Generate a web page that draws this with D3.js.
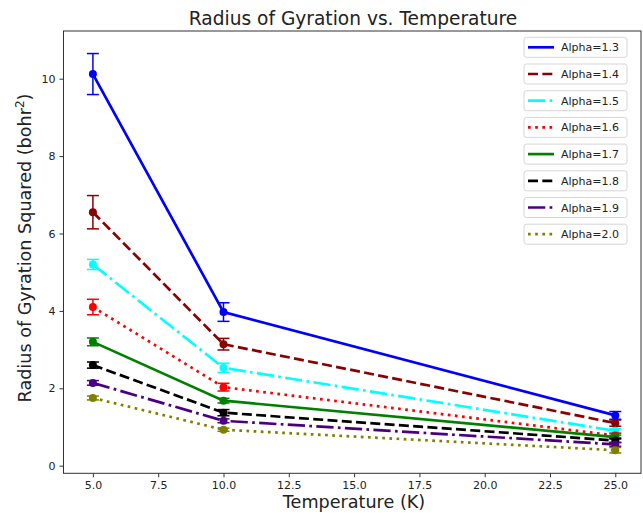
<!DOCTYPE html>
<html><head><meta charset="utf-8">
<script src="https://cdn.jsdelivr.net/npm/d3@7"></script>
<style>body{margin:0;background:#fff}svg{display:block}text{font-family:"DejaVu Sans",sans-serif}</style>
</head><body>
<svg id="c" width="643" height="514"></svg>
<script>
const temps = [5, 10, 25];
const alphas = ["1.3","1.4","1.5","1.6","1.7","1.8","1.9","2.0"];
const values = {
  "1.3": [10.12, 3.97, 1.3],
  "1.4": [6.55, 3.14, 1.1],
  "1.5": [5.2, 2.53, 0.9],
  "1.6": [4.1, 2.03, 0.78],
  "1.7": [3.2, 1.68, 0.74],
  "1.8": [2.6, 1.37, 0.65],
  "1.9": [2.14, 1.16, 0.55],
  "2.0": [1.75, 0.93, 0.4]
};
const errors = {
  "1.3": [0.53, 0.24, 0.1],
  "1.4": [0.43, 0.15, 0.08],
  "1.5": [0.13, 0.12, 0.06],
  "1.6": [0.2, 0.1, 0.06],
  "1.7": [0.1, 0.06, 0.05],
  "1.8": [0.08, 0.08, 0.05],
  "1.9": [0.06, 0.05, 0.05],
  "2.0": [0.05, 0.04, 0.07]
};
const colors = ["#0000ff","#8b0000","#00ffff","#ff0000","#008000","#000000","#4b0082","#808000"];
const styles = ["solid","dashed","dashdot","dotted","solid","dashed","dashdot","dotted"];
const xTicks = [5, 7.5, 10, 12.5, 15, 17.5, 20, 22.5, 25];
const yTicks = [0, 2, 4, 6, 8, 10];

const L = 63.5, R = 641, T = 31, B = 473.3;
const svg = d3.select("#c");
const x = d3.scaleLinear().domain([5, 25]).range([92.9, 615.3]);
const y = d3.scaleLinear().domain([0, 10]).range([465.7, 78.7]);
const lw = 2.7;
const dash = {solid: null, dashed: [3.7*lw, 1.6*lw], dashdot: [6.4*lw, 1.6*lw, 1*lw, 1.6*lw], dotted: [1*lw, 1.65*lw]};

// series
alphas.forEach((a, i) => {
  const g = svg.append("g");
  const pts = temps.map((t, j) => ({t, v: values[a][j], e: errors[a][j]}));
  const c = colors[i];
  g.append("path").datum(pts)
    .attr("d", d3.line().x(d => x(d.t)).y(d => y(d.v)))
    .attr("fill", "none").attr("stroke", c).attr("stroke-width", lw)
    .attr("stroke-dasharray", dash[styles[i]] ? dash[styles[i]].join(",") : null);
  pts.forEach(d => {
    g.append("line").attr("x1", x(d.t)).attr("x2", x(d.t)).attr("y1", y(d.v - d.e)).attr("y2", y(d.v + d.e))
      .attr("stroke", c).attr("stroke-width", 1.5);
    [d.v - d.e, d.v + d.e].forEach(v => g.append("line").attr("x1", x(d.t) - 6).attr("x2", x(d.t) + 6)
      .attr("y1", y(v)).attr("y2", y(v)).attr("stroke", c).attr("stroke-width", 1.5));
    g.append("circle").attr("cx", x(d.t)).attr("cy", y(d.v)).attr("r", 4).attr("fill", c);
  });
});

// axes frame
svg.append("rect").attr("x", L).attr("y", T).attr("width", R - L).attr("height", B - T)
  .attr("fill", "none").attr("stroke", "#333").attr("stroke-width", 1);

const xa = svg.append("g").attr("transform", `translate(0,${B})`)
  .call(d3.axisBottom(x).tickValues(xTicks).tickFormat(d3.format(".1f")).tickSize(4).tickPadding(4));
const ya = svg.append("g").attr("transform", `translate(${L},0)`)
  .call(d3.axisLeft(y).tickValues(yTicks).tickFormat(d3.format("d")).tickSize(4).tickPadding(4));
[xa, ya].forEach(a => {
  a.select(".domain").remove();
  a.selectAll("text").attr("font-size", 11).attr("fill", "#222").style("font-family", "DejaVu Sans");
  a.selectAll("line").attr("stroke", "#333");
});

// title and labels
svg.append("text").attr("x", 353).attr("y", 25).attr("text-anchor", "middle")
  .attr("font-size", 18.6).attr("fill", "#222").text("Radius of Gyration vs. Temperature");
svg.append("text").attr("x", 354).attr("y", 508).attr("text-anchor", "middle")
  .attr("font-size", 17.6).attr("fill", "#222").text("Temperature (K)");
const yl = svg.append("text").attr("transform", `translate(31,248) rotate(-90)`)
  .attr("text-anchor", "middle").attr("font-size", 17.6).attr("fill", "#222");
yl.append("tspan").text("Radius of Gyration Squared (bohr");
yl.append("tspan").attr("font-size", 12).attr("dy", -7).text("2");
yl.append("tspan").attr("dy", 7).text(")");

// legend: separate boxes
alphas.forEach((a, i) => {
  const top = 37.3 + i * 26.7;
  const g = svg.append("g");
  g.append("rect").attr("x", 524).attr("y", top).attr("width", 103).attr("height", 20).attr("rx", 2.5)
    .attr("fill", "#fff").attr("fill-opacity", 0.8).attr("stroke", "#d6d6d6").attr("stroke-width", 1);
  g.append("line").attr("x1", 528).attr("x2", 554).attr("y1", top + 10).attr("y2", top + 10)
    .attr("stroke", colors[i]).attr("stroke-width", lw)
    .attr("stroke-dasharray", dash[styles[i]] ? dash[styles[i]].join(",") : null);
  g.append("text").attr("x", 561).attr("y", top + 14).attr("font-size", 11).attr("fill", "#222")
    .text("Alpha=" + a);
});
</script>
</body></html>
